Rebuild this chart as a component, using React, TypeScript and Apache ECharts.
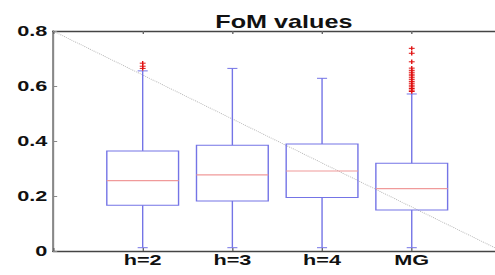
import React, { useEffect, useRef } from "react";
import * as echarts from "echarts";

// ---- data ----
const categories = ["h=2", "h=3", "h=4", "MG"];
const lowerWhisker = [0.012, 0.012, 0.012, 0.012];
const q1 = [0.166, 0.182, 0.195, 0.149];
const median = [0.256, 0.277, 0.291, 0.227];
const q3 = [0.364, 0.385, 0.389, 0.319];
const upperWhisker = [0.655, 0.664, 0.628, 0.571];
const outliersH2 = [0.664, 0.672, 0.683];
const outliersMG = [
  0.737, 0.719, 0.688, 0.665, 0.657, 0.65, 0.643, 0.637, 0.63, 0.623, 0.616,
  0.61, 0.603, 0.597, 0.591, 0.585, 0.58,
];
const diagonalX = [0, 5];
const diagonalY = [0.8, 0];
const yTicks = [0, 0.2, 0.4, 0.6, 0.8];

const STRETCH = 495 / 354;

export default function App() {
  const ref = useRef<HTMLDivElement>(null);
  useEffect(() => {
    if (!ref.current) return;
    const chart = echarts.init(ref.current, null, { renderer: "svg" });
    const boxData = categories.map((_, i) => [
      i + 1,
      lowerWhisker[i],
      q1[i],
      median[i],
      q3[i],
      upperWhisker[i],
    ]);
    const outlierData: number[][] = [
      ...outliersH2.map((v) => [1, v]),
      ...outliersMG.map((v) => [4, v]),
    ];
    const boxColor = "#7474e6";
    const medColor = "#f09a9a";
    const font = "'Liberation Sans', Arial, Helvetica, sans-serif";

    chart.setOption({
      animation: false,
      title: {
        text: "FoM values",
        left: 198,
        top: 8,
        textAlign: "center",
        textStyle: { fontFamily: font, fontSize: 18, fontWeight: "bold", color: "#111" },
      },
      grid: {
        left: 37.9,
        right: -4.6,
        top: 31,
        bottom: 24,
        outerBoundsMode: "none",
        containLabel: false,
      },
      xAxis: [
        {
          type: "value",
          min: 0,
          max: 5,
          interval: 1,
          position: "bottom",
          splitLine: { show: false },
          axisLine: { show: true, onZero: false, lineStyle: { color: "#444", width: 1.3 } },
          axisTick: { show: true, inside: true, length: 3, lineStyle: { color: "#666" } },
          axisLabel: {
            margin: 1,
            fontFamily: font,
            fontSize: 15.5,
            fontWeight: "bold",
            color: "#111",
            formatter: (v: number) =>
              v >= 1 && v <= categories.length && Number.isInteger(v) ? categories[v - 1] : "",
          },
        },
        {
          type: "value",
          min: 0,
          max: 5,
          interval: 1,
          position: "top",
          splitLine: { show: false },
          axisLine: { show: true, onZero: false, lineStyle: { color: "#444", width: 1.3 } },
          axisTick: { show: true, inside: true, length: 3, lineStyle: { color: "#666" } },
          axisLabel: { show: false },
        },
      ],
      yAxis: {
        type: "value",
        min: yTicks[0],
        max: yTicks[yTicks.length - 1],
        interval: 0.2,
        splitLine: { show: false },
        axisLine: { show: true, onZero: false, lineStyle: { color: "#888", width: 1.5 } },
        axisTick: { show: true, inside: true, length: 3, lineStyle: { color: "#888" } },
        axisLabel: {
          margin: 4,
          fontFamily: font,
          fontSize: 15.5,
          fontWeight: "bold",
          color: "#111",
          padding: [6, 0, 0, 0],
        },
      },
      series: [
        {
          type: "line",
          data: diagonalX.map((x, i) => [x, diagonalY[i]]),
          symbol: "none",
          lineStyle: { color: "#b4b4b4", width: 0.8, type: "dotted" },
          silent: true,
          z: 1,
        },
        {
          type: "custom",
          data: boxData,
          encode: { x: 0, y: [1, 2, 3, 4, 5] },
          z: 3,
          renderItem: (params: any, api: any) => {
            const x = api.value(0);
            const pMin = api.coord([x, api.value(1)]);
            const pQ1 = api.coord([x, api.value(2)]);
            const pMed = api.coord([x, api.value(3)]);
            const pQ3 = api.coord([x, api.value(4)]);
            const pMax = api.coord([x, api.value(5)]);
            const w = api.size([0.8, 0])[0];
            const cap = 3.6;
            const cx = pMed[0];
            const ls = { stroke: boxColor, lineWidth: 1, fill: null };
            return {
              type: "group",
              children: [
                { type: "line", shape: { x1: cx, y1: pQ3[1], x2: cx, y2: pMax[1] }, style: ls },
                { type: "line", shape: { x1: cx, y1: pQ1[1], x2: cx, y2: pMin[1] }, style: ls },
                { type: "line", shape: { x1: cx - cap, y1: pMax[1], x2: cx + cap, y2: pMax[1] }, style: ls },
                { type: "line", shape: { x1: cx - cap, y1: pMin[1], x2: cx + cap, y2: pMin[1] }, style: ls },
                {
                  type: "rect",
                  shape: { x: cx - w / 2, y: pQ3[1], width: w, height: pQ1[1] - pQ3[1] },
                  style: { stroke: boxColor, lineWidth: 1, fill: "none" },
                },
                {
                  type: "line",
                  shape: { x1: cx - w / 2, y1: pMed[1], x2: cx + w / 2, y2: pMed[1] },
                  style: { stroke: medColor, lineWidth: 1.2 },
                },
              ],
            };
          },
        },
        {
          type: "custom",
          data: outlierData,
          encode: { x: 0, y: 1 },
          z: 4,
          renderItem: (params: any, api: any) => {
            const p = api.coord([api.value(0), api.value(1)]);
            const hw = 2.1;
            const hh = 2.2;
            const st = { stroke: "#e01010", lineWidth: 1 };
            return {
              type: "group",
              children: [
                { type: "line", shape: { x1: p[0] - hw, y1: p[1], x2: p[0] + hw, y2: p[1] }, style: st },
                { type: "line", shape: { x1: p[0], y1: p[1] - hh, x2: p[0], y2: p[1] + hh }, style: st },
              ],
            };
          },
        },
      ],
    });
    return () => chart.dispose();
  }, []);

  return (
    <div
      style={{
        position: "fixed",
        left: 0,
        top: 0,
        width: 495,
        height: 275,
        overflow: "hidden",
        background: "#fff",
      }}
    >
      <div
        ref={ref}
        style={{
          width: 354,
          height: 275,
          transform: `scaleX(${STRETCH})`,
          transformOrigin: "0 0",
        }}
      />
    </div>
  );
}
